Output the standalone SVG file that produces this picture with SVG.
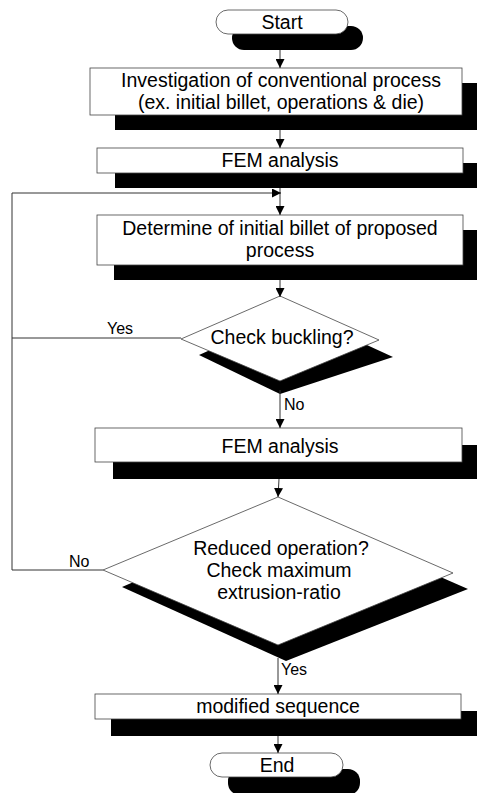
<svg xmlns="http://www.w3.org/2000/svg" width="477" height="793" viewBox="0 0 477 793">
<defs>
<marker id="arr" viewBox="0 0 10 10" refX="10" refY="5" markerWidth="9" markerHeight="9" markerUnits="userSpaceOnUse" orient="auto">
<path d="M0,0 L10,5 L0,10 Z" fill="#000"/>
</marker>
</defs>
<style>
.box{fill:#fff;stroke:#444;stroke-width:0.8}
.sh{fill:#000}
.t{font-family:"Liberation Sans",Arial,sans-serif;font-size:19.5px;fill:#000;text-anchor:middle}
.lb{font-family:"Liberation Sans",Arial,sans-serif;font-size:16px;fill:#000}
.c{fill:none;stroke:#333;stroke-width:1}
</style>
<rect width="477" height="793" fill="#fff"/>
<g id="start">
<rect class="sh" x="232" y="26" width="131" height="24" rx="12"/>
<rect class="box" x="216" y="10" width="132" height="24" rx="12"/>
<text class="t" x="282" y="29">Start</text>
</g>
<g id="investigation">
<rect class="sh" x="115" y="83" width="370" height="47"/>
<rect class="box" x="90" y="68" width="372" height="47"/>
<text class="t" x="281" y="87">Investigation of conventional process</text>
<text class="t" x="281" y="109">(ex. initial billet, operations &amp; die)</text>
</g>
<g id="fem1">
<rect class="sh" x="115" y="163" width="370" height="25"/>
<rect class="box" x="97" y="148" width="366" height="25"/>
<text class="t" x="280" y="167">FEM analysis</text>
</g>
<g id="determine">
<rect class="sh" x="114" y="230" width="370" height="50"/>
<rect class="box" x="97" y="215" width="366" height="50"/>
<text class="t" x="280" y="235">Determine of initial billet of proposed</text>
<text class="t" x="280" y="257">process</text>
</g>
<g id="buckling">
<polygon class="sh" points="295,312 393,357 280,394 199,355"/>
<polygon class="box" points="280,296 379,340 280,381 181,339"/>
<text class="t" x="282" y="344">Check buckling?</text>
</g>
<g id="fem2">
<rect class="sh" x="113" y="445" width="370" height="34"/>
<rect class="box" x="95" y="428" width="367" height="34"/>
<text class="t" x="280" y="453">FEM analysis</text>
</g>
<g id="reduced">
<polygon class="sh" points="294,513 468,589 286,661 122,587"/>
<polygon class="box" points="278,497 453,573 278,645 103,570"/>
<text class="t" x="281" y="555">Reduced operation?</text>
<text class="t" x="279" y="577">Check maximum</text>
<text class="t" x="279" y="599">extrusion-ratio</text>
</g>
<g id="modified">
<rect class="sh" x="111" y="711" width="370" height="25"/>
<rect class="box" x="95" y="694" width="366" height="25"/>
<text class="t" x="278" y="713">modified sequence</text>
</g>
<g id="end">
<rect class="sh" x="228" y="769" width="132" height="26" rx="12"/>
<rect class="box" x="210" y="753" width="133" height="24" rx="12"/>
<text class="t" x="277" y="772">End</text>
</g>
<g id="connectors">
<line class="c" x1="280" y1="50" x2="280" y2="68" marker-end="url(#arr)"/>
<line class="c" x1="280" y1="130" x2="280" y2="148" marker-end="url(#arr)"/>
<line class="c" x1="280" y1="188" x2="280" y2="215" marker-end="url(#arr)"/>
<polyline class="c" points="103,570 12,570 12,193 281,193" marker-end="url(#arr)"/>
<line class="c" x1="181" y1="338" x2="12" y2="338"/>
<line class="c" x1="280" y1="280" x2="280" y2="297" marker-end="url(#arr)"/>
<line class="c" x1="280" y1="390" x2="280" y2="428" marker-end="url(#arr)"/>
<line class="c" x1="279" y1="479" x2="278" y2="497" marker-end="url(#arr)"/>
<line class="c" x1="278" y1="658" x2="278" y2="694" marker-end="url(#arr)"/>
<line class="c" x1="278" y1="736" x2="278" y2="753" marker-end="url(#arr)"/>
</g>
<text class="lb" x="107" y="334">Yes</text>
<text class="lb" x="284" y="410">No</text>
<text class="lb" x="69" y="567">No</text>
<text class="lb" x="281" y="675">Yes</text>
</svg>
